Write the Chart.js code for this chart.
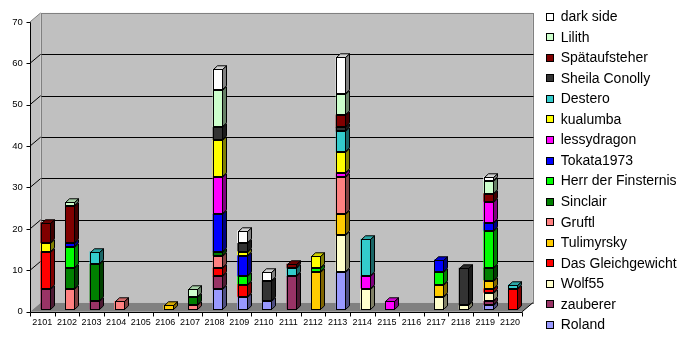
<!DOCTYPE html>
<html><head><meta charset="utf-8">
<script src="https://cdn.jsdelivr.net/npm/chart.js@4/dist/chart.umd.min.js"></script>
<style>html,body{margin:0;padding:0;background:#fff;}canvas{display:block;}</style>
</head><body>
<canvas id="c" width="690" height="338"></canvas>
<script>
const categories = ['2101','2102','2103','2104','2105','2106','2107','2108','2109','2110','2111','2112','2113','2114','2115','2116','2117','2118','2119','2120'];
const yTickValues = [0,10,20,30,40,50,60,70];

// series, bottom of stack first
const roland        = [0,0,0,0,0,0,0,5,3,2,0,0,9,0,0,0,0,0,1,0];
const zauberer      = [5,0,2,0,0,0,0,3,0,0,8,0,0,0,0,0,0,0,1,0];
const wolf55        = [0,0,0,0,0,0,0,0,0,0,0,0,9,5,0,0,3,1,2,0];
const dasGleich     = [9,0,0,0,0,0,0,2,3,0,0,0,0,0,0,0,0,0,1,5];
const tulimyrsky    = [0,0,0,0,0,1,0,0,0,0,0,9,5,0,0,0,3,0,2,0];
const gruftl        = [0,5,0,2,0,0,1,3,0,0,0,0,9,0,0,0,0,0,0,0];
const sinclair      = [0,5,9,0,0,0,2,1,0,0,0,0,0,0,0,0,0,0,3,0];
const herr          = [0,5,0,0,0,0,0,0,2,0,0,1,0,0,0,0,3,0,9,0];
const tokata        = [0,1,0,0,0,0,0,9,5,0,0,0,0,0,0,0,3,0,2,0];
const lessydragon   = [0,0,0,0,0,0,0,9,0,0,0,0,1,3,2,0,0,0,5,0];
const kualumba      = [2,0,0,0,0,0,0,9,1,0,0,3,5,0,0,0,0,0,0,0];
const destero       = [0,0,3,0,0,0,0,0,0,0,2,0,5,9,0,0,0,0,0,1];
const sheila        = [0,0,0,0,0,0,0,3,2,5,0,0,1,0,0,0,0,9,0,0];
const spaet         = [5,9,0,0,0,0,0,0,0,0,1,0,3,0,0,0,0,0,2,0];
const lilith        = [0,1,0,0,0,0,2,9,0,0,0,0,5,0,0,0,0,0,3,0];
const darkSide      = [0,0,0,0,0,0,0,5,3,2,0,0,9,0,0,0,0,0,1,0];

const seriesNames  = ['Roland','zauberer','Wolf55','Das Gleichgewicht','Tulimyrsky','Gruftl','Sinclair','Herr der Finsternis','Tokata1973','lessydragon','kualumba','Destero','Sheila Conolly','Spätaufsteher','Lilith','dark side'];
const seriesValues = [roland,zauberer,wolf55,dasGleich,tulimyrsky,gruftl,sinclair,herr,tokata,lessydragon,kualumba,destero,sheila,spaet,lilith,darkSide];
const seriesColors = ['#9999FF','#993366','#FFFFCC','#FF0000','#FFCC00','#FF8080','#008000','#00FF00','#0000FF','#FF00FF','#FFFF00','#33CCCC','#333333','#800000','#CCFFCC','#FFFFFF'];

const FONT = '"Liberation Sans", Arial, sans-serif';

function shade(hex, f){
  const n = parseInt(hex.slice(1),16);
  const r = Math.round(((n>>16)&255)*f), g = Math.round(((n>>8)&255)*f), b = Math.round((n&255)*f);
  return 'rgb('+r+','+g+','+b+')';
}

const DX = 10.7, DY = 9;     // depth of the plot box
const BDX = 4, BDY = 3.7;    // depth of the bars
const SHIFT = 3.4;           // bars sit slightly behind the front plane

const threeD = {
  id: 'threeD',
  beforeDraw(chart){
    const {ctx, scales:{x, y}} = chart;
    const half = (x.getPixelForValue(1) - x.getPixelForValue(0)) / 2;
    const xf0 = x.getPixelForValue(0) - half - SHIFT;
    const xf1 = x.getPixelForValue(categories.length-1) + half - SHIFT;
    const yf = v => y.getPixelForValue(v) + 2.2;
    const yb = v => yf(v) - DY;
    const top = yTickValues[yTickValues.length-1];
    const sx = v => Math.round(v) + 0.5;
    ctx.save();
    ctx.lineWidth = 1;
    ctx.fillStyle = '#C0C0C0';
    ctx.fillRect(xf0+DX, yb(top), xf1-xf0, yb(0)-yb(top));
    ctx.beginPath();
    ctx.moveTo(xf0, yf(0)); ctx.lineTo(xf0, yf(top)); ctx.lineTo(xf0+DX, yb(top)); ctx.lineTo(xf0+DX, yb(0)); ctx.closePath();
    ctx.fill();
    ctx.fillStyle = '#808080';
    ctx.beginPath();
    ctx.moveTo(xf0, yf(0)); ctx.lineTo(xf1, yf(0)); ctx.lineTo(xf1+DX, yb(0)); ctx.lineTo(xf0+DX, yb(0)); ctx.closePath();
    ctx.fill();
    ctx.strokeStyle = '#808080';
    ctx.strokeRect(sx(xf0+DX), sx(yb(top)), Math.round(xf1-xf0), Math.round(yb(0)-yb(top)));
    ctx.beginPath(); ctx.moveTo(xf0, yf(top)); ctx.lineTo(xf0+DX, yb(top)); ctx.stroke();
    ctx.strokeStyle = '#000';
    yTickValues.forEach(v => {
      if (v === 0 || v === top) return;
      ctx.beginPath();
      ctx.moveTo(sx(xf0+DX), sx(yb(v))); ctx.lineTo(sx(xf1+DX), sx(yb(v)));
      ctx.stroke();
      ctx.beginPath();
      ctx.moveTo(xf0, yf(v)); ctx.lineTo(xf0+DX, yb(v));
      ctx.stroke();
    });
    ctx.beginPath(); ctx.moveTo(xf1, yf(0)); ctx.lineTo(xf1+DX, yb(0)); ctx.stroke();
    ctx.beginPath();
    ctx.moveTo(sx(xf0), sx(yf(top))); ctx.lineTo(sx(xf0), sx(yf(0)));
    ctx.lineTo(sx(xf1), sx(yf(0)));
    ctx.stroke();
    yTickValues.forEach(v => {
      ctx.beginPath(); ctx.moveTo(sx(xf0)-4, sx(yf(v))); ctx.lineTo(sx(xf0), sx(yf(v))); ctx.stroke();
    });
    for (let i = 0; i <= categories.length; i++){
      const px = sx(xf0 + i*2*half);
      ctx.beginPath(); ctx.moveTo(px, sx(yf(0))); ctx.lineTo(px, sx(yf(0))+4); ctx.stroke();
    }
    ctx.restore();
  },
  afterDatasetsDraw(chart){
    const ctx = chart.ctx;
    const n = categories.length;
    const topIdx = new Array(n).fill(-1);
    seriesValues.forEach((arr, di) => arr.forEach((v, i) => { if (v > 0) topIdx[i] = di; }));
    ctx.save();
    ctx.lineWidth = 1;
    ctx.strokeStyle = '#000';
    seriesValues.forEach((arr, di) => {
      const meta = chart.getDatasetMeta(di);
      arr.forEach((v, i) => {
        if (!(v > 0)) return;
        const el = meta.data[i];
        const p = el.getProps(['x','y','base','width'], true);
        const L = Math.round(p.x - p.width/2) + 0.5;
        const R = Math.round(p.x + p.width/2) - 0.5;
        const T = Math.round(Math.min(p.y, p.base)) + 0.5;
        const B = Math.round(Math.max(p.y, p.base)) - 0.5;
        const col = seriesColors[di];
        ctx.fillStyle = shade(col, 0.5);
        ctx.beginPath();
        ctx.moveTo(R, T); ctx.lineTo(R+BDX, T-BDY); ctx.lineTo(R+BDX, B-BDY); ctx.lineTo(R, B); ctx.closePath();
        ctx.fill(); ctx.stroke();
        if (topIdx[i] === di){
          ctx.fillStyle = shade(col, 0.82);
          ctx.beginPath();
          ctx.moveTo(L, T); ctx.lineTo(L+BDX, T-BDY); ctx.lineTo(R+BDX, T-BDY); ctx.lineTo(R, T); ctx.closePath();
          ctx.fill(); ctx.stroke();
        }
        ctx.strokeRect(L, T, R-L, B-T);
      });
    });
    ctx.restore();
  },
  afterDraw(chart){
    const ctx = chart.ctx;
    ctx.save();
    ctx.font = '14px ' + FONT;
    ctx.textBaseline = 'middle';
    ctx.textAlign = 'left';
    ctx.lineWidth = 1;
    const m = seriesNames.length;
    for (let k = 0; k < m; k++){
      const di = m - 1 - k;
      const yc = 16.7 + k*20.55;
      const by = Math.round(yc - 4);
      ctx.fillStyle = seriesColors[di];
      ctx.fillRect(546, by, 8, 8);
      ctx.strokeStyle = '#000';
      ctx.strokeRect(546.5, by+0.5, 7, 7);
      ctx.fillStyle = '#000';
      ctx.fillText(seriesNames[di], 560.7, yc + 0.5);
    }
    ctx.restore();
  }
};

const datasets = seriesNames.map((name, di) => ({
  label: name,
  data: seriesValues[di].map(v => v > 0 ? v : null),
  backgroundColor: seriesColors[di],
  borderWidth: 0,
  barThickness: 10,
  stack: 's'
}));

new Chart(document.getElementById('c'), {
  type: 'bar',
  data: { labels: categories, datasets },
  options: {
    responsive: false,
    animation: false,
    devicePixelRatio: 1,
    layout: { padding: { left: 0, top: 19.7, right: 164.4, bottom: 0 } },
    plugins: { legend: { display: false }, tooltip: { enabled: false } },
    scales: {
      x: {
        stacked: true,
        grid: { display: false, drawTicks: false },
        border: { display: false },
        ticks: { color: '#000', font: { family: FONT, size: 9 }, padding: 7.5, labelOffset: -SHIFT, maxRotation: 0, autoSkip: false },
        afterFit(s){ s.height = 28.5; }
      },
      y: {
        stacked: true,
        min: 0, max: 70,
        grid: { display: false, drawTicks: false },
        border: { display: false },
        ticks: { color: '#000', font: { family: FONT, size: 9.5 }, stepSize: 10, padding: 10.7, labelOffset: 2.2 },
        afterFit(s){ s.width = 33.4; }
      }
    }
  },
  plugins: [threeD]
});
</script>
</body></html>
